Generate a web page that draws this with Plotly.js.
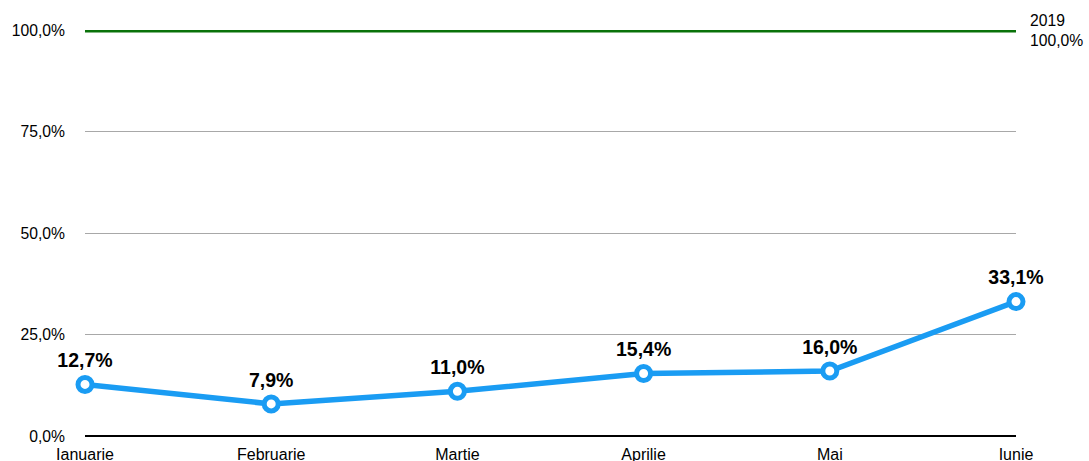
<!DOCTYPE html>
<html><head><meta charset="utf-8">
<script src="https://cdn.plot.ly/plotly-3.0.1.min.js"></script>
<style>html,body{margin:0;padding:0;background:#fff}#chart{width:1089px;height:461px}</style>
</head><body><div id="chart"></div>
<script>
const months = ["Ianuarie","Februarie","Martie","Aprilie","Mai","Iunie"];
const values2020 = [12.7, 7.9, 11.0, 15.4, 16.0, 33.1];
const values2019 = [100, 100, 100, 100, 100, 100];
const yTickVals = [0, 25, 50, 75, 100];
const yTickText = ["0,0%", "25,0%", "50,0%", "75,0%", "100,0%"];
const baseLabel = "2019";

const fmt = v => v.toFixed(1).replace('.', ',') + '%';
const font = "Liberation Sans, Arial, Helvetica, sans-serif";

const traces = [
  {x: months, y: values2019, type: 'scatter', mode: 'lines',
   line: {color: '#0a720a', width: 5}, cliponaxis: false, hoverinfo: 'skip'},
  {x: months, y: values2020, type: 'scatter', mode: 'lines+markers',
   line: {color: '#1a9cf3', width: 5.5},
   marker: {size: 14, color: '#ffffff', line: {color: '#1a9cf3', width: 5}},
   cliponaxis: false},
  {x: months, y: values2020, type: 'scatter', mode: 'markers+text',
   marker: {size: 18, opacity: 0},
   text: values2020.map(fmt), textposition: 'top center',
   textfont: {family: font, size: 19.5, color: '#000', weight: 'bold'},
   cliponaxis: false, hoverinfo: 'skip'}
];

const layout = {
  width: 1089, height: 461,
  margin: {l: 85, r: 73, t: 30, b: 25},
  showlegend: false,
  paper_bgcolor: '#fff', plot_bgcolor: '#fff',
  font: {family: font, size: 16, color: '#000'},
  xaxis: {type: 'category', range: [0, 5], showgrid: false, zeroline: false,
          showline: false, ticks: '', tickfont: {size: 16}, ticklabelstandoff: 7, fixedrange: true},
  yaxis: {range: [0, 100], tickvals: yTickVals, ticktext: yTickText,
          showgrid: true, gridcolor: '#a8a8a8', gridwidth: 1,
          zeroline: true, zerolinecolor: '#000', zerolinewidth: 1.5,
          showline: false, ticks: '', ticklabelstandoff: 19, tickfont: {size: 15.7}},
  annotations: [
    {xref: 'paper', yref: 'y', x: 1, y: 100, xanchor: 'left', yanchor: 'middle',
     xshift: 12, align: 'left', showarrow: false,
     text: baseLabel + '<br>' + fmt(values2019[values2019.length-1]),
     font: {family: font, size: 15.7, color: '#000'}}
  ]
};
Plotly.newPlot('chart', traces, layout, {displayModeBar: false, staticPlot: true});
</script></body></html>
